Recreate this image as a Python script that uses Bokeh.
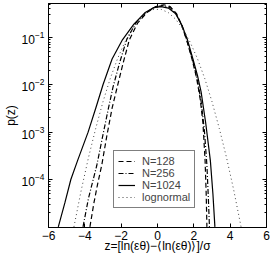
import math
from bokeh.plotting import figure
from bokeh.models import (Range1d, FixedTicker, LinearAxis, LogAxis,
                          Legend, LegendItem)
from bokeh.embed import file_html
from bokeh.resources import INLINE

# ---------------- data ----------------
z_128 = [-3.72, -3.5, -3.3, -3.07, -2.8, -2.5, -2.22, -1.9, -1.55, -1.1, -0.6,
         -0.1, 0.35, 0.7, 1.05, 1.35, 1.6, 1.9, 2.15, 2.35, 2.5, 2.62, 2.68, 2.72]
p_128 = [1.0e-5, 3.2e-5, 7.9e-5, 2.0e-4, 7.9e-4, 3.2e-3, 8.9e-3, 0.028, 0.089,
         0.20, 0.33, 0.447, 0.49, 0.447, 0.316, 0.178, 0.089, 0.035, 0.0141,
         5.0e-3, 1.6e-3, 2.5e-4, 5.0e-5, 1.0e-5]

z_256 = [-4.1, -3.8, -3.34, -3.0, -2.7, -2.45, -2.1, -1.7, -1.2, -0.65, -0.15,
         0.3, 0.7, 1.05, 1.35, 1.65, 1.95, 2.2, 2.4, 2.58, 2.72, 2.8, 2.86]
p_256 = [1.0e-5, 4.0e-5, 2.0e-4, 8.9e-4, 3.2e-3, 8.9e-3, 0.028, 0.089, 0.20,
         0.33, 0.437, 0.468, 0.427, 0.302, 0.174, 0.079, 0.0316, 0.0126,
         4.5e-3, 1.1e-3, 2.0e-4, 4.0e-5, 1.0e-5]

z_1024 = [-5.46, -5.1, -4.77, -4.4, -3.82, -3.4, -3.0, -2.5, -1.93, -1.3, -0.7,
          -0.2, 0.2, 0.6, 1.0, 1.35, 1.65, 1.95, 2.2, 2.4, 2.65, 2.91, 3.05, 3.16]
p_1024 = [1.0e-5, 3.2e-5, 1.0e-4, 2.5e-4, 1.0e-3, 3.2e-3, 0.010, 0.035, 0.089,
          0.19, 0.33, 0.427, 0.447, 0.417, 0.316, 0.178, 0.089, 0.035, 0.0158,
          7.1e-3, 1.6e-3, 2.5e-4, 5.0e-5, 1.0e-5]

z_logn = [-4.6, -4.2, -3.8, -3.4, -3.0, -2.6, -2.2, -1.8, -1.4, -1.0, -0.6, -0.2,
          0.2, 0.6, 1.0, 1.4, 1.8, 2.2, 2.6, 3.0, 3.4, 3.8, 4.2, 4.6]
p_logn = [1.0e-5, 5.9e-5, 2.9e-4, 1.2e-3, 4.4e-3, 0.0136, 0.0355, 0.079, 0.15,
          0.242, 0.333, 0.391, 0.391, 0.333, 0.242, 0.15, 0.079, 0.0355, 0.0136,
          4.4e-3, 1.2e-3, 2.9e-4, 5.9e-5, 1.0e-5]

series_labels = ["N=128", "N=256", "N=1024", "lognormal"]
x_ticks = [-6, -4, -2, 0, 2, 4, 6]
y_ticks = [1e-4, 1e-3, 1e-2, 1e-1]
x_label = "z=[ln(εθ)−⟨ln(εθ)⟩]/σ"
y_label = "p(z)"

FONT = "Liberation Sans"

p = figure(width=273, height=262, y_axis_type="log",
           x_range=Range1d(-6, 6), y_range=Range1d(9.7e-6, 0.52),
           output_backend="svg", toolbar_location=None,
           min_border_left=42, min_border_right=7, min_border_top=3,
           min_border_bottom=35)
p.background_fill_color = "white"
p.border_fill_color = "white"
p.outline_line_color = "black"
p.outline_line_width = 1
p.grid.visible = False

minor = [k * 10.0 ** e for e in range(-5, 0) for k in range(2, 10) if k * 10.0 ** e <= 0.5]
xt = FixedTicker(ticks=x_ticks, minor_ticks=[])
yt = FixedTicker(ticks=y_ticks, minor_ticks=minor)

def style(ax):
    ax.axis_line_color = "black"
    ax.major_tick_in = 4
    ax.major_tick_out = 0
    ax.minor_tick_in = 2
    ax.minor_tick_out = 0
    ax.major_tick_line_color = "black"
    ax.minor_tick_line_color = "black"
    ax.major_label_text_font = FONT
    ax.major_label_text_font_size = "12px"
    ax.major_label_text_color = "black"

p.xaxis.ticker = xt
p.yaxis.ticker = yt
style(p.xaxis[0])
style(p.yaxis[0])
p.xaxis.major_label_standoff = 3
p.yaxis.major_label_standoff = 4

p.xaxis.axis_label = x_label
p.yaxis.axis_label = y_label
for ax in (p.xaxis[0], p.yaxis[0]):
    ax.axis_label_text_font = FONT
    ax.axis_label_text_font_size = "12px"
    ax.axis_label_text_font_style = "normal"
    ax.axis_label_text_color = "black"
p.xaxis.axis_label_standoff = -4
p.yaxis.axis_label_standoff = 1

top = LinearAxis(ticker=xt)
style(top)
top.major_label_text_alpha = 0
top.major_label_text_font_size = "1px"
top.major_label_standoff = 0
p.add_layout(top, "above")
right = LogAxis(ticker=yt)
style(right)
right.major_label_text_alpha = 0
right.major_label_text_font_size = "1px"
right.major_label_standoff = 0
p.add_layout(right, "right")

r128 = p.line(z_128, p_128, line_color="black", line_width=1.2, line_dash="5 3")
r256 = p.line(z_256, p_256, line_color="black", line_width=1.2, line_dash="5 2 1 2")
r1024 = p.line(z_1024, p_1024, line_color="black", line_width=1.2)
rlog = p.line(z_logn, p_logn, line_color="#444444", line_width=1, line_dash="1 3")

legend = Legend(items=[LegendItem(label=series_labels[0], renderers=[r128]),
                       LegendItem(label=series_labels[1], renderers=[r256]),
                       LegendItem(label=series_labels[2], renderers=[r1024]),
                       LegendItem(label=series_labels[3], renderers=[rlog])],
                location=(65, 19), border_line_color="black", border_line_width=1,
                background_fill_color="white", background_fill_alpha=1,
                padding=4, spacing=0, margin=0, glyph_width=17, glyph_height=10,
                label_standoff=7, label_height=10,
                label_text_font=FONT, label_text_font_size="11px")
p.add_layout(legend)

open("out.html", "w").write(file_html(p, INLINE))
